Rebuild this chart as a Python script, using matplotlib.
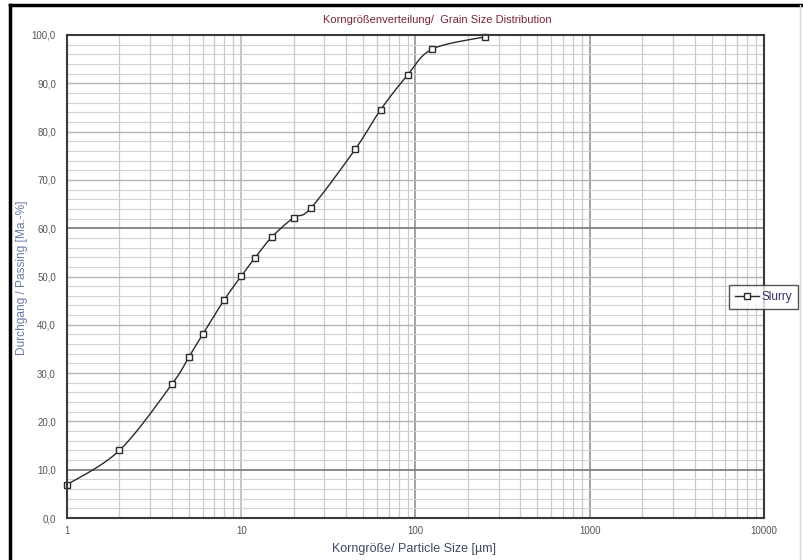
import numpy as np
import matplotlib
matplotlib.use("Agg")
import matplotlib.pyplot as plt
from matplotlib.ticker import FixedLocator, FuncFormatter, NullFormatter
from matplotlib.lines import Line2D

# grain size data
size_um = [1, 2, 4, 5, 6, 8, 10, 12, 15, 20, 25, 45, 63, 90, 125, 250]
passing = [6.9, 14.0, 27.7, 33.3, 38.0, 45.2, 50.1, 53.9, 58.2, 62.2, 64.1,
           76.3, 84.5, 91.7, 97.1, 99.6]
series_name = "Slurry"
title = "Korngrößenverteilung/  Grain Size Distribution"
xlabel = "Korngröße/ Particle Size [µm]"
ylabel = "Durchgang / Passing [Ma.-%]"

FONT = ["Liberation Sans", "DejaVu Sans"]
plt.rcParams["font.family"] = FONT


def smooth(xs, ys, n=20):
    # Catmull-Rom (Excel style smoothed line) in log-x space
    lx = np.log10(xs)
    ys = np.asarray(ys, float)
    px = np.concatenate([[lx[0]], lx, [lx[-1]]])
    py = np.concatenate([[ys[0]], ys, [ys[-1]]])
    ox, oy = [], []
    t = np.linspace(0, 1, n, endpoint=False)
    for i in range(1, len(px) - 2):
        for p, out in ((px, ox), (py, oy)):
            p0, p1, p2, p3 = p[i - 1], p[i], p[i + 1], p[i + 2]
            out.extend(0.5 * (2 * p1 + (-p0 + p2) * t
                              + (2 * p0 - 5 * p1 + 4 * p2 - p3) * t ** 2
                              + (-p0 + 3 * p1 - 3 * p2 + p3) * t ** 3))
    ox.append(lx[-1]); oy.append(ys[-1])
    return 10 ** np.array(ox), np.array(oy)


fig = plt.figure(figsize=(8.04, 5.6), dpi=100)
ax = fig.add_axes([67 / 804, 42 / 560, 697 / 804, 483 / 560])

ax.set_xscale("log")
ax.set_xlim(1, 10000)
ax.set_ylim(0, 100)

# grid lines
minor_x = [m * 10 ** d for d in range(4) for m in range(2, 10)]
for xv in minor_x:
    ax.axvline(xv, color="#cacaca", lw=0.9, zorder=1)
for xv, c in ((10, "#b4b4b4"), (100, "#8a8a8a"), (1000, "#8a8a8a")):
    ax.axvline(xv, color=c, lw=1.1, zorder=1)
for yv in np.arange(2, 100, 2):
    if yv % 10 == 0:
        c = "#808080" if yv in (10, 60) else "#b4b4b4"
        lw = 1.3 if yv in (10, 60) else 1.0
    else:
        c, lw = "#d2d2d2", 0.8
    ax.axhline(yv, color=c, lw=lw, zorder=1)

sx, sy = smooth(size_um, passing)
ax.plot(sx, sy, color="#2a2a2a", lw=1.0, zorder=3)
ax.plot(size_um, passing, ls="none", marker="s", ms=4.5, mfc="white",
        mec="#2a2a2a", mew=1.0, zorder=4, clip_on=False)

ax.xaxis.set_major_locator(FixedLocator([1, 10, 100, 1000, 10000]))
ax.xaxis.set_major_formatter(FuncFormatter(lambda v, p: f"{v:.0f}"))
ax.xaxis.set_minor_formatter(NullFormatter())
ax.set_yticks(np.arange(0, 101, 10))
ax.yaxis.set_major_formatter(FuncFormatter(lambda v, p: f"{v:.1f}".replace(".", ",")))
ax.tick_params(axis="both", which="both", length=0, labelsize=7,
               labelcolor="#555555")
ax.tick_params(axis="x", pad=6)
ax.tick_params(axis="y", pad=8)

for s in ax.spines.values():
    s.set_color("#3a3a3a")
    s.set_linewidth(1.5)
    s.set_zorder(5)

fig.text(437 / 804, 1 - 20 / 560, title, ha="center", va="center",
         fontsize=8, color="#7a2535")
fig.text(414 / 804, 1 - 549 / 560, xlabel, ha="center", va="center",
         fontsize=9, color="#404a60")
fig.text(22 / 804, 1 - 278 / 560, ylabel, ha="center", va="center",
         rotation=90, fontsize=8.6, color="#6a78a8")

handle = Line2D([], [], color="#2a2a2a", lw=1.0, marker="s", ms=4.5,
                mfc="white", mec="#2a2a2a")
leg = fig.legend([handle], [series_name], loc="center left",
                 bbox_to_anchor=(729 / 804, 1 - 297 / 560), fontsize=8.5,
                 frameon=True, fancybox=False, handlelength=2.0,
                 handletextpad=0.25, borderpad=0.5, borderaxespad=0)
leg.get_frame().set_edgecolor("#2a2a2a")
leg.get_frame().set_linewidth(1.0)
for t in leg.get_texts():
    t.set_color("#303060")

# outer frame of the picture
fig.add_artist(Line2D([10 / 804, 10 / 804], [0, 1 - 5 / 560],
                      transform=fig.transFigure, color="black", lw=2.5))
fig.add_artist(Line2D([10 / 804, 1], [1 - 5 / 560, 1 - 5 / 560],
                      transform=fig.transFigure, color="black", lw=2.5))
fig.add_artist(Line2D([800 / 804, 800 / 804], [0, 1 - 5 / 560],
                      transform=fig.transFigure, color="#d8d8d8", lw=1.0))

fig.savefig("out.png", dpi=100)
